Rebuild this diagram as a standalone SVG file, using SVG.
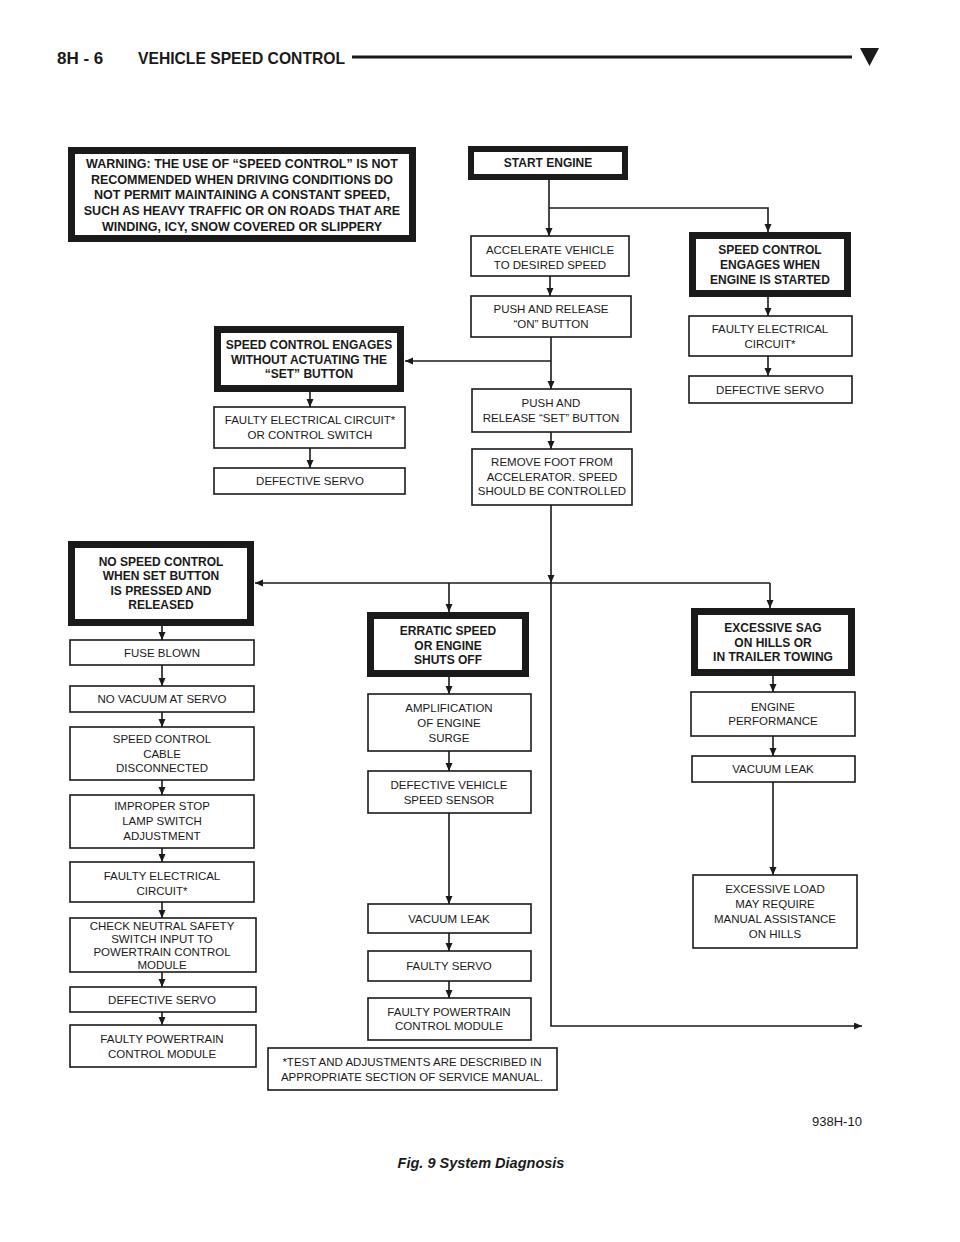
<svg xmlns="http://www.w3.org/2000/svg" width="960" height="1242" viewBox="0 0 960 1242">
<style>
.box{fill:#fff;stroke:#1a1a1a;stroke-width:1.6}
.tbox{fill:#fff;stroke:#1a1a1a;stroke-width:7}
.t{font-family:"Liberation Sans",Arial,sans-serif;font-size:11.5px;text-anchor:middle;fill:#1a1a1a}
.b{font-weight:bold;font-size:12px}
.w{font-size:12.5px}
.c{fill:none;stroke:#1a1a1a;stroke-width:1.6}
.hd{font-family:"Liberation Sans",Arial,sans-serif;font-weight:bold;font-size:17px;fill:#1a1a1a}
</style>
<defs>
<marker id="ah" markerUnits="userSpaceOnUse" markerWidth="9" markerHeight="8" refX="8" refY="3.5" orient="auto">
<path d="M0,0 L8,3.5 L0,7 z" fill="#1a1a1a"/>
</marker>
</defs>
<rect width="960" height="1242" fill="#fff"/>
<g id="header">
<text class="hd" x="57" y="64">8H - 6</text>
<text class="hd" x="138" y="64" textLength="207" lengthAdjust="spacingAndGlyphs">VEHICLE SPEED CONTROL</text>
<line x1="352" y1="57" x2="852" y2="57" stroke="#1a1a1a" stroke-width="3"/>
<polygon points="860,48 879,48 869.5,66" fill="#1a1a1a"/>
</g>
<g id="connectors">
<path class="c" d="M549,180 V236" marker-end="url(#ah)"/>
<path class="c" d="M549,208 H768 V232" marker-end="url(#ah)"/>
<path class="c" d="M550,276 V296" marker-end="url(#ah)"/>
<path class="c" d="M551,337 V389" marker-end="url(#ah)"/>
<path class="c" d="M551,361 H405" marker-end="url(#ah)"/>
<path class="c" d="M551,432 V449" marker-end="url(#ah)"/>
<path class="c" d="M551,505 V583" marker-end="url(#ah)"/>
<path class="c" d="M551,583 V1026 H862" marker-end="url(#ah)"/>
<path class="c" d="M770,583 H255" marker-end="url(#ah)"/>
<path class="c" d="M770,583 V608" marker-end="url(#ah)"/>
<path class="c" d="M449,583 V612" marker-end="url(#ah)"/>
<path class="c" d="M310,392 V407" marker-end="url(#ah)"/>
<path class="c" d="M310,448 V468" marker-end="url(#ah)"/>
<path class="c" d="M768,297 V316" marker-end="url(#ah)"/>
<path class="c" d="M768,356 V376" marker-end="url(#ah)"/>
<path class="c" d="M162,626 V640" marker-end="url(#ah)"/>
<path class="c" d="M162,665 V686" marker-end="url(#ah)"/>
<path class="c" d="M162,712 V727" marker-end="url(#ah)"/>
<path class="c" d="M162,780 V795" marker-end="url(#ah)"/>
<path class="c" d="M162,848 V862" marker-end="url(#ah)"/>
<path class="c" d="M162,902 V918" marker-end="url(#ah)"/>
<path class="c" d="M162,972 V987" marker-end="url(#ah)"/>
<path class="c" d="M162,1012 V1025" marker-end="url(#ah)"/>
<path class="c" d="M449,677 V694" marker-end="url(#ah)"/>
<path class="c" d="M449,751 V771" marker-end="url(#ah)"/>
<path class="c" d="M449,813 V904" marker-end="url(#ah)"/>
<path class="c" d="M449,933 V951" marker-end="url(#ah)"/>
<path class="c" d="M449,981 V998" marker-end="url(#ah)"/>
<path class="c" d="M773,676 V692" marker-end="url(#ah)"/>
<path class="c" d="M773,736 V756" marker-end="url(#ah)"/>
<path class="c" d="M773,782 V875" marker-end="url(#ah)"/>
</g>
<g id="warning">
<rect class="tbox" x="71.5" y="150.5" width="341" height="88"/>
<text class="t b w" x="242" y="168">WARNING: THE USE OF “SPEED CONTROL” IS NOT</text>
<text class="t b w" x="242" y="183.5">RECOMMENDED WHEN DRIVING CONDITIONS DO</text>
<text class="t b w" x="242" y="199">NOT PERMIT MAINTAINING A CONSTANT SPEED,</text>
<text class="t b w" x="242" y="215">SUCH AS HEAVY TRAFFIC OR ON ROADS THAT ARE</text>
<text class="t b w" x="242" y="230.5">WINDING, ICY, SNOW COVERED OR SLIPPERY</text>
</g>
<g id="start">
<rect class="tbox" x="471" y="149" width="154" height="28" style="stroke-width:6"/>
<text class="t b" x="548" y="167">START ENGINE</text>
</g>
<g id="accel">
<rect class="box" x="471" y="236" width="158" height="40"/>
<text class="t" x="550" y="254">ACCELERATE VEHICLE</text>
<text class="t" x="550" y="269">TO DESIRED SPEED</text>
</g>
<g id="pushon">
<rect class="box" x="471" y="296" width="160" height="41"/>
<text class="t" x="551" y="313">PUSH AND RELEASE</text>
<text class="t" x="551" y="328">“ON” BUTTON</text>
</g>
<g id="pushset">
<rect class="box" x="472" y="389" width="159" height="43"/>
<text class="t" x="551" y="407">PUSH AND</text>
<text class="t" x="551" y="422">RELEASE “SET” BUTTON</text>
</g>
<g id="removefoot">
<rect class="box" x="472" y="449" width="160" height="56"/>
<text class="t" x="552" y="466">REMOVE FOOT FROM</text>
<text class="t" x="552" y="481">ACCELERATOR. SPEED</text>
<text class="t" x="552" y="495">SHOULD BE CONTROLLED</text>
</g>
<g id="engwithout">
<rect class="tbox" x="217.5" y="329.5" width="183" height="59"/>
<text class="t b" x="309" y="349">SPEED CONTROL ENGAGES</text>
<text class="t b" x="309" y="364">WITHOUT ACTUATING THE</text>
<text class="t b" x="309" y="378">“SET” BUTTON</text>
</g>
<g id="fault1">
<rect class="box" x="214" y="407" width="191" height="41"/>
<text class="t" x="310" y="424">FAULTY ELECTRICAL CIRCUIT*</text>
<text class="t" x="310" y="439">OR CONTROL SWITCH</text>
</g>
<g id="defservo1">
<rect class="box" x="214" y="468" width="191" height="26"/>
<text class="t" x="310" y="485">DEFECTIVE SERVO</text>
</g>
<g id="engstart">
<rect class="tbox" x="692.5" y="235.5" width="155" height="58"/>
<text class="t b" x="770" y="254">SPEED CONTROL</text>
<text class="t b" x="770" y="269">ENGAGES WHEN</text>
<text class="t b" x="770" y="284">ENGINE IS STARTED</text>
</g>
<g id="fault2">
<rect class="box" x="689" y="316" width="163" height="40"/>
<text class="t" x="770" y="333">FAULTY ELECTRICAL</text>
<text class="t" x="770" y="348">CIRCUIT*</text>
</g>
<g id="defservo2">
<rect class="box" x="689" y="376" width="163" height="27"/>
<text class="t" x="770" y="393.5">DEFECTIVE SERVO</text>
</g>
<g id="nospeed">
<rect class="tbox" x="71.5" y="544.5" width="179" height="78"/>
<text class="t b" x="161" y="566">NO SPEED CONTROL</text>
<text class="t b" x="161" y="580">WHEN SET BUTTON</text>
<text class="t b" x="161" y="595">IS PRESSED AND</text>
<text class="t b" x="161" y="609">RELEASED</text>
</g>
<g id="fuse">
<rect class="box" x="70" y="640" width="184" height="25"/>
<text class="t" x="162" y="656.5">FUSE BLOWN</text>
</g>
<g id="novacuum">
<rect class="box" x="70" y="686" width="184" height="26"/>
<text class="t" x="162" y="703">NO VACUUM AT SERVO</text>
</g>
<g id="cable">
<rect class="box" x="70" y="727" width="184" height="53"/>
<text class="t" x="162" y="743">SPEED CONTROL</text>
<text class="t" x="162" y="758">CABLE</text>
<text class="t" x="162" y="772">DISCONNECTED</text>
</g>
<g id="lampswitch">
<rect class="box" x="70" y="795" width="184" height="53"/>
<text class="t" x="162" y="810">IMPROPER STOP</text>
<text class="t" x="162" y="825">LAMP SWITCH</text>
<text class="t" x="162" y="840">ADJUSTMENT</text>
</g>
<g id="fault3">
<rect class="box" x="70" y="862" width="184" height="40"/>
<text class="t" x="162" y="880">FAULTY ELECTRICAL</text>
<text class="t" x="162" y="895">CIRCUIT*</text>
</g>
<g id="neutral">
<rect class="box" x="70" y="918" width="186" height="54"/>
<text class="t" x="162" y="930">CHECK NEUTRAL SAFETY</text>
<text class="t" x="162" y="943">SWITCH INPUT TO</text>
<text class="t" x="162" y="956">POWERTRAIN CONTROL</text>
<text class="t" x="162" y="969">MODULE</text>
</g>
<g id="defservo3">
<rect class="box" x="70" y="987" width="186" height="25"/>
<text class="t" x="162" y="1003.5">DEFECTIVE SERVO</text>
</g>
<g id="pcm1">
<rect class="box" x="70" y="1025" width="186" height="42"/>
<text class="t" x="162" y="1043">FAULTY POWERTRAIN</text>
<text class="t" x="162" y="1058">CONTROL MODULE</text>
</g>
<g id="erratic">
<rect class="tbox" x="370.5" y="615.5" width="155" height="58"/>
<text class="t b" x="448" y="635">ERRATIC SPEED</text>
<text class="t b" x="448" y="650">OR ENGINE</text>
<text class="t b" x="448" y="664">SHUTS OFF</text>
</g>
<g id="amplification">
<rect class="box" x="368" y="694" width="163" height="57"/>
<text class="t" x="449" y="712">AMPLIFICATION</text>
<text class="t" x="449" y="727">OF ENGINE</text>
<text class="t" x="449" y="742">SURGE</text>
</g>
<g id="vss">
<rect class="box" x="368" y="771" width="163" height="42"/>
<text class="t" x="449" y="789">DEFECTIVE VEHICLE</text>
<text class="t" x="449" y="804">SPEED SENSOR</text>
</g>
<g id="vacuum2">
<rect class="box" x="368" y="904" width="163" height="29"/>
<text class="t" x="449" y="922.5">VACUUM LEAK</text>
</g>
<g id="faultyservo">
<rect class="box" x="368" y="951" width="163" height="30"/>
<text class="t" x="449" y="970">FAULTY SERVO</text>
</g>
<g id="pcm2">
<rect class="box" x="368" y="998" width="163" height="42"/>
<text class="t" x="449" y="1016">FAULTY POWERTRAIN</text>
<text class="t" x="449" y="1030">CONTROL MODULE</text>
</g>
<g id="note">
<rect class="box" x="268" y="1048" width="289" height="42"/>
<text class="t" x="412" y="1066">*TEST AND ADJUSTMENTS ARE DESCRIBED IN</text>
<text class="t" x="412" y="1081">APPROPRIATE SECTION OF SERVICE MANUAL.</text>
</g>
<g id="sag">
<rect class="tbox" x="694.5" y="611.5" width="157" height="61"/>
<text class="t b" x="773" y="632">EXCESSIVE SAG</text>
<text class="t b" x="773" y="647">ON HILLS OR</text>
<text class="t b" x="773" y="661">IN TRAILER TOWING</text>
</g>
<g id="engperf">
<rect class="box" x="691" y="692" width="164" height="44"/>
<text class="t" x="773" y="711">ENGINE</text>
<text class="t" x="773" y="725">PERFORMANCE</text>
</g>
<g id="vacuum3">
<rect class="box" x="692" y="756" width="163" height="26"/>
<text class="t" x="773" y="773">VACUUM LEAK</text>
</g>
<g id="load">
<rect class="box" x="693" y="875" width="164" height="73"/>
<text class="t" x="775" y="893">EXCESSIVE LOAD</text>
<text class="t" x="775" y="908">MAY REQUIRE</text>
<text class="t" x="775" y="923">MANUAL ASSISTANCE</text>
<text class="t" x="775" y="938">ON HILLS</text>
</g>
<g id="footer">
<text x="812" y="1126" font-family="Liberation Sans, Arial, sans-serif" font-size="13" fill="#1a1a1a">938H-10</text>
<text x="481" y="1168" font-family="Liberation Sans, Arial, sans-serif" font-size="14.5" font-weight="bold" font-style="italic" text-anchor="middle" fill="#1a1a1a">Fig. 9 System Diagnosis</text>
</g>
</svg>
